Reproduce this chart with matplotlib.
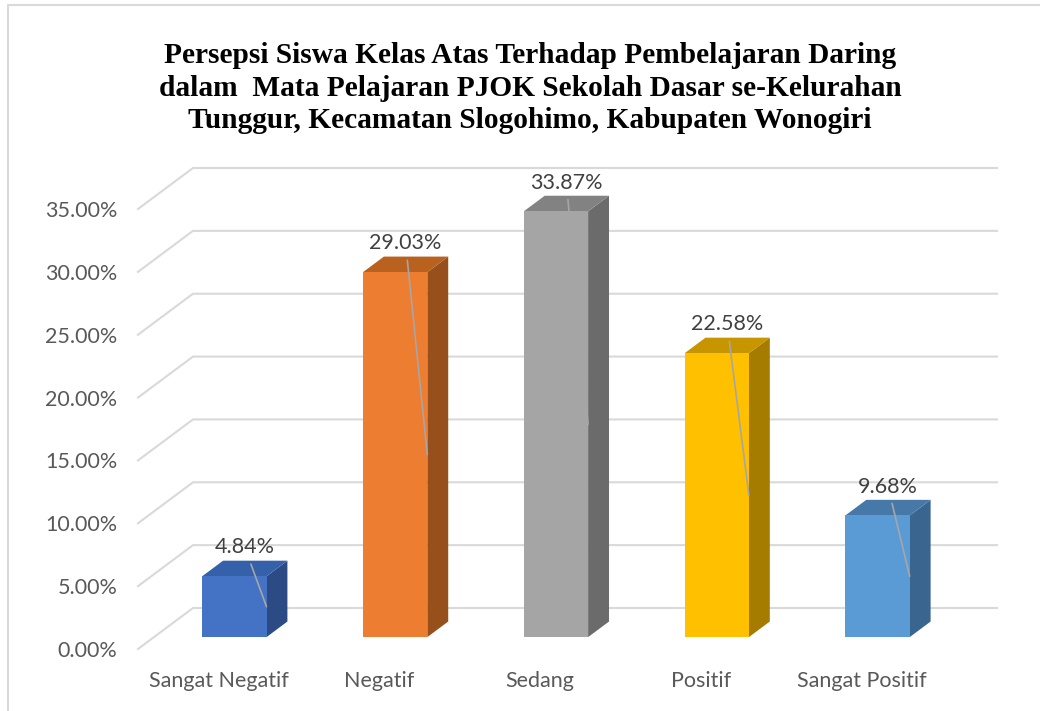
import numpy as np
import matplotlib
matplotlib.use('Agg')
import matplotlib.pyplot as plt
from matplotlib.patches import Polygon
from matplotlib.lines import Line2D

# Data
categories = ['Sangat Negatif', 'Negatif', 'Sedang', 'Positif', 'Sangat Positif']
values = [4.84, 29.03, 33.87, 22.58, 9.68]
y_ticks = [0, 5, 10, 15, 20, 25, 30, 35]

title = ('Persepsi Siswa Kelas Atas Terhadap Pembelajaran Daring\n'
         'dalam  Mata Pelajaran PJOK Sekolah Dasar se-Kelurahan\n'
         'Tunggur, Kecamatan Slogohimo, Kabupaten Wonogiri')

# warna sisi depan, atas, samping
front_colors = ['#4472C4', '#ED7D31', '#A5A5A5', '#FFC000', '#5B9BD5']
top_colors = ['#3560AA', '#B9611F', '#828282', '#C79500', '#4679A8']
side_colors = ['#2C4B84', '#97501C', '#6B6B6B', '#A57B00', '#39658E']

W, H = 1040, 711
DX, DY = 55, 41          # kedalaman dinding belakang (px)
D0, D1 = 0.29, 0.67      # posisi depan/belakang batang
BW = 0.2                 # setengah lebar batang
GRID = '#D9D9D9'
FS = 15.5

plt.rcParams['font.family'] = ['Lato', 'DejaVu Sans']

fig = plt.figure(figsize=(W / 100, H / 100), dpi=100)
ax = fig.add_axes([138 / W, (H - 649) / H, 804 / W, 440 / H])
ax.set_zorder(5)
ax.set_xlim(-0.5, len(categories) - 0.5)
ax.set_ylim(0, 35)
ax.patch.set_alpha(0)
for s in ax.spines.values():
    s.set_visible(False)

ax.set_yticks(y_ticks)
ax.set_yticklabels([f'{t:.2f}%' for t in y_ticks])
ax.set_xticks(range(len(categories)))
ax.set_xticklabels(categories)
ax.tick_params(axis='y', length=0, pad=15, labelsize=FS, labelcolor='#595959')
ax.tick_params(axis='x', length=0, pad=16, labelsize=FS, labelcolor='#595959')


def proj(x, v, d):
    px, py = ax.transData.transform((x, v))
    return (px + d * DX, py + d * DY)


# gridlines: diagonal kiri + garis dinding belakang
x_left, x_right = ax.get_xlim()
for t in y_ticks:
    a = proj(x_left, t, 0)
    b = proj(x_left, t, 1)
    c = proj(x_right, t, 1)
    fig.add_artist(Line2D([a[0], b[0], c[0]], [a[1], b[1], c[1]],
                          transform=None, color=GRID, lw=1.5, zorder=1))

# batang 3D
for i, v in enumerate(values):
    front = [proj(i - BW, 0, D0), proj(i + BW, 0, D0),
             proj(i + BW, v, D0), proj(i - BW, v, D0)]
    side = [proj(i + BW, 0, D0), proj(i + BW, 0, D1),
            proj(i + BW, v, D1), proj(i + BW, v, D0)]
    top = [proj(i - BW, v, D0), proj(i + BW, v, D0),
           proj(i + BW, v, D1), proj(i - BW, v, D1)]
    for pts, col in [(side, side_colors[i]), (top, top_colors[i]), (front, front_colors[i])]:
        fig.add_artist(Polygon(pts, closed=True, transform=None,
                               facecolor=col, edgecolor='none', zorder=3))

    # label nilai dengan garis penunjuk
    mx, my = proj(i, v, (D0 + D1) / 2)
    end = proj(i + BW, v / 2, D0)
    ax.annotate(f'{v:.2f}%', xy=end, xycoords='figure pixels',
                xytext=(mx, my + 21), textcoords='figure pixels',
                ha='center', va='center', fontsize=FS, color='#404040',
                arrowprops=dict(arrowstyle='-', color='#A6A6A6', lw=1.2,
                                shrinkA=3, shrinkB=0),
                annotation_clip=False)

# judul
fig.text(530 / W, 1 - 88 / H, title, ha='center', va='center',
         fontsize=21.2, fontweight='bold', family='Liberation Serif',
         linespacing=1.26)

# bingkai grafik (kiri dan atas)
fig.add_artist(Line2D([8, 8, W + 5], [-5, H - 5, H - 5], transform=None,
                      color=GRID, lw=1.5))

fig.savefig('out.png', dpi=100)
